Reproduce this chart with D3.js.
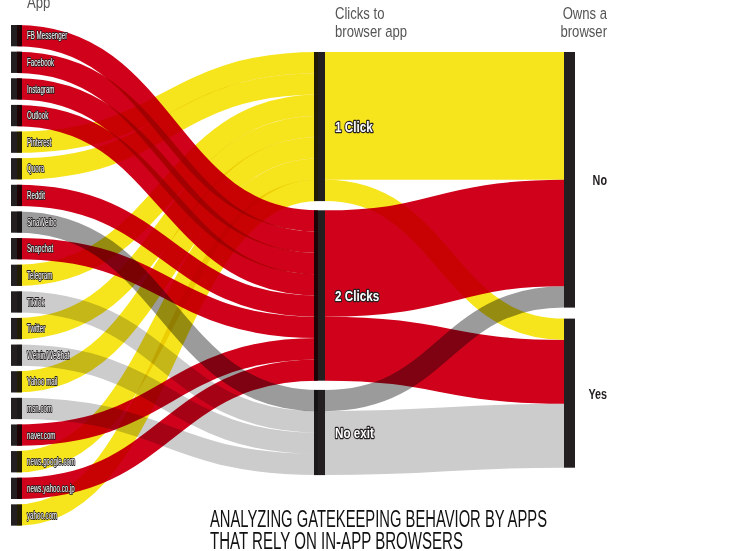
<!DOCTYPE html>
<html>
<head>
<meta charset="utf-8">
<script src="https://cdn.jsdelivr.net/npm/d3@7"></script>
<style>
  body { margin: 0; background: #fff; }
  svg { display: block; font-family: "Liberation Sans", Arial, sans-serif; }
  .link { fill: none; mix-blend-mode: multiply; }
</style>
</head>
<body>
<div id="chart"></div>
<script>
// apps in the order they sit in the left column
var apps = ["FB Messenger", "Facebook", "Instagram", "Outlook", "Pinterest", "Quora", "Reddit",
  "SinaWeibo", "Snapchat", "Telegram", "TikTok", "Twitter", "Weixin/WeChat", "Yahoo mail",
  "msn.com", "naver.com", "news.google.com", "news.yahoo.co.jp", "yahoo.com"];
var appClicks = ["2 Clicks", "2 Clicks", "2 Clicks", "2 Clicks", "1 Click", "1 Click", "2 Clicks",
  "No exit", "2 Clicks", "1 Click", "No exit", "1 Click", "No exit", "1 Click",
  "No exit", "2 Clicks", "1 Click", "2 Clicks", "1 Click"];
var appOwns = ["No", "No", "No", "Yes", "No", "No", "No",
  "No", "No", "No", "Yes", "No", "Yes", "No",
  "Yes", "Yes", "Yes", "Yes", "No"];
var clickLevels = ["1 Click", "2 Clicks", "No exit"];
var ownLevels = ["No", "Yes"];
var colTitles = [["App"], ["Clicks to", "browser app"], ["Owns a", "browser"]];
var titleLines = ["ANALYZING GATEKEEPING BEHAVIOR BY APPS", "THAT RELY ON IN-APP BROWSERS"];

var width = 731, height = 551;
var nodeWidth = 11;
var unit = d3.scaleLinear().domain([0, 1]).range([0, 21.3]); // px per app

var columns = [
  { x: 11, top: 25, gap: 5.33 },
  { x: 314, top: 52, gap: 9.2 },
  { x: 564, top: 52, gap: 11 }
];

function linkColor(clicks, owns) {
  if (clicks === "1 Click") return "#f6e51c";
  if (clicks === "2 Clicks") return "#d0021b";
  return owns === "No" ? "#9b9b9b" : "#cccccc";
}

// ---- build nodes
function makeColumn(col, names, values) {
  var c = columns[col], y = c.top;
  return names.map(function (name, i) {
    var h = unit(values[i]);
    var n = { name: name, col: col, x0: c.x, x1: c.x + nodeWidth, y0: y, y1: y + h, inLinks: [], outLinks: [] };
    y += h + c.gap;
    return n;
  });
}
var clickCount = d3.rollup(appClicks, v => v.length, d => d);
var ownCount = d3.rollup(appOwns, v => v.length, d => d);

var appNodes = makeColumn(0, apps, apps.map(() => 1));
var clickNodes = makeColumn(1, clickLevels, clickLevels.map(c => clickCount.get(c)));
var ownNodes = makeColumn(2, ownLevels, ownLevels.map(o => ownCount.get(o)));
var nodes = appNodes.concat(clickNodes, ownNodes);

// ---- build links
var links = [];
apps.forEach(function (a, i) {
  links.push({ source: appNodes[i], target: clickNodes[clickLevels.indexOf(appClicks[i])],
    value: 1, color: linkColor(appClicks[i], appOwns[i]) });
});
clickLevels.forEach(function (c, ci) {
  ownLevels.forEach(function (o, oi) {
    var v = d3.range(apps.length).filter(i => appClicks[i] === c && appOwns[i] === o).length;
    if (v > 0) links.push({ source: clickNodes[ci], target: ownNodes[oi], value: v, color: linkColor(c, o) });
  });
});
links.forEach(function (l) { l.source.outLinks.push(l); l.target.inLinks.push(l); });

// stack link ends inside each node
nodes.forEach(function (n) {
  var y = n.y0;
  n.outLinks.sort((a, b) => a.target.y0 - b.target.y0).forEach(function (l) {
    l.sy = y + unit(l.value) / 2; y += unit(l.value);
  });
  y = n.y0;
  n.inLinks.sort((a, b) => a.source.y0 - b.source.y0).forEach(function (l) {
    l.ty = y + unit(l.value) / 2; y += unit(l.value);
  });
});

var svg = d3.select("#chart").append("svg")
  .attr("width", width)
  .attr("height", height);

// nodes first, links multiply over them
svg.append("g")
  .selectAll("rect")
  .data(nodes)
  .enter()
  .append("rect")
  .attr("x", d => d.x0)
  .attr("y", d => d.y0)
  .attr("width", nodeWidth)
  .attr("height", d => d.y1 - d.y0)
  .attr("fill", "#231f20");

// first stage links tuck a bit into both nodes
var path = d3.linkHorizontal()
  .source(d => [d.source.col === 0 ? d.source.x1 - 5 : d.source.x1, d.sy])
  .target(d => [d.target.col === 1 ? d.target.x0 + 4 : d.target.x0, d.ty]);

svg.append("g")
  .selectAll("path")
  .data(links)
  .enter()
  .append("path")
  .attr("class", "link")
  .attr("d", path)
  .attr("stroke", d => d.color)
  .attr("stroke-width", d => unit(d.value));

// text squeezed horizontally (the original face is very condensed)
function squeezed(g, x, y, sx) {
  return g.append("g")
    .attr("transform", "translate(" + x + "," + y + ")")
    .append("text")
    .attr("transform", "scale(" + sx + ",1)");
}

// app labels (white with dark halo)
appNodes.forEach(function (d) {
  squeezed(svg, d.x1 + 5, (d.y0 + d.y1) / 2, 0.62)
    .attr("dy", "0.36em")
    .style("font-size", "10px")
    .attr("fill", "#fff")
    .attr("stroke", "#231f20")
    .attr("stroke-width", 1.8)
    .attr("paint-order", "stroke")
    .attr("stroke-linejoin", "round")
    .text(d.name);
});

// clicks labels
clickNodes.forEach(function (d) {
  squeezed(svg, d.x1 + 10, (d.y0 + d.y1) / 2, 0.78)
    .attr("dy", "0.36em")
    .style("font-size", "15px")
    .style("font-weight", "bold")
    .attr("fill", "#fff")
    .attr("stroke", "#231f20")
    .attr("stroke-width", 2.5)
    .attr("paint-order", "stroke")
    .attr("stroke-linejoin", "round")
    .text(d.name);
});

// owns labels
ownNodes.forEach(function (d) {
  squeezed(svg, 607, (d.y0 + d.y1) / 2, 0.72)
    .attr("dy", "0.36em")
    .attr("text-anchor", "end")
    .style("font-size", "15px")
    .style("font-weight", "bold")
    .attr("fill", "#231f20")
    .text(d.name);
});

// column headers
var headX = [27, 335, 607];
var headAnchor = ["start", "start", "end"];
colTitles.forEach(function (lines, c) {
  lines.forEach(function (line, i) {
    squeezed(svg, headX[c], (c === 0 ? 8 : 19) + i * 18, 0.77)
      .attr("text-anchor", headAnchor[c])
      .style("font-size", "17px")
      .attr("fill", "#555")
      .text(line);
  });
});

// title
var titleWidth = [337, 253];
svg.append("g")
  .selectAll("text")
  .data(titleLines)
  .enter()
  .append("text")
  .attr("x", 210)
  .attr("y", (d, i) => 527 + i * 22)
  .attr("textLength", (d, i) => titleWidth[i])
  .attr("lengthAdjust", "spacingAndGlyphs")
  .style("font-size", "23px")
  .attr("fill", "#111")
  .text(d => d);
</script>
</body>
</html>
